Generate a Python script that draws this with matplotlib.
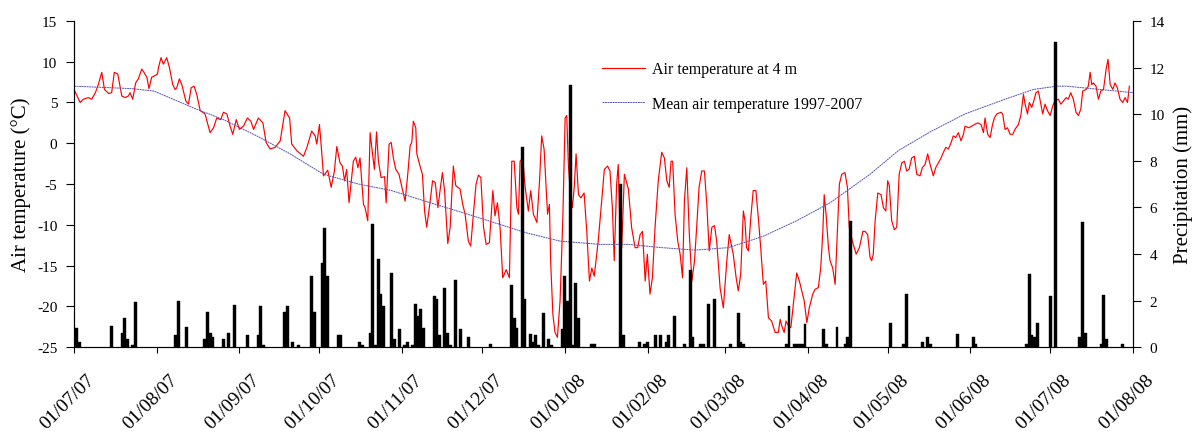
import matplotlib
matplotlib.use("Agg")
import matplotlib.pyplot as plt
import matplotlib.dates as mdates
from matplotlib.transforms import ScaledTranslation
import pandas as pd

plt.rcParams['font.family'] = ['Liberation Serif', 'DejaVu Serif']
plt.rcParams['axes.unicode_minus'] = False

start = pd.Timestamp('2007-07-01')

# Air temperature at 4 m: days since 01/07/07 and value (degC)
temp_days = [0, 2.3, 3.5, 5.4, 6.6, 8, 9.1, 10.4, 11.4, 13, 14.1, 15.1, 16.4, 17.9, 19.1, 20.4, 21, 22,
             23.1, 24.1, 25.4, 26.4, 27.3, 28.1, 29.1, 30.4, 31.3, 31.6, 32.6, 33.5, 34.75, 35.75, 37,
             37.9, 38.5, 39.5, 40.4, 41.9, 42.9, 43.9,
             45, 46, 47.3, 49.1, 51, 52.3, 53.5, 55, 56, 57.3, 58.5, 59.5, 60.8, 62, 63.5, 65, 66.3,
             67.3, 69.1, 70.8, 72, 73.5, 75.4, 77.3, 79.1, 80.8, 81.6, 83.5, 86, 87.3, 89.1, 90.4, 91,
             92, 92.9, 93.5,
             95.1, 96.4, 97.6, 98.5, 99.7, 100.6, 101.4, 102.2, 103.1, 104.7, 105.6, 106.4, 107.2,
             108.5, 109.1, 110.1, 111, 111.9, 112.6, 113.4, 114.1, 115.1, 116.4, 117, 118.1, 118.9,
             119.7, 120.6, 121.8, 122.9, 124.1, 125.1, 126, 126.6, 127.2, 128.1, 128.5, 129.7, 130.6,
             131.4, 132.2, 133.5, 134.4, 135.4, 136.4, 137.2, 138.1, 138.9, 140.1, 141, 141.6, 142.2,
             143.1, 144.7,
             145.7, 146.6, 147.8, 148.7, 149.7, 150.7, 151.6, 152.5, 153.5, 154.5, 155.7, 157, 157.8,
             158.7, 159.7, 160.7, 162, 163.2, 164.1, 165, 166, 166.6, 167.2, 168.2, 169.1, 170.3,
             171.2, 172.2, 173.5, 174.5, 175.3, 176.2, 177.5, 178.2, 178.7, 179.5, 180.3, 181.2,
             182.2, 183.2, 184.1, 184.7, 185.3, 185.9, 186.8, 187.5, 188.2, 189.1, 190, 191.2, 192.2,
             193.2, 194.1, 195,
             196.5, 197.8, 198.8, 200, 200.9, 201.8, 202.5, 203.4, 204, 204.7, 205.3, 206.3, 207.8,
             209, 210.3, 211.3, 212.2, 213.1, 214.1, 214.9, 215.9, 216.8, 217.8, 219, 220.3, 221.3,
             222.2, 223.1, 223.8, 224.4, 225.3, 226.3, 227.2, 228.1, 228.8, 229.7, 230.6, 231.6,
             232.6, 233.4, 234.3, 235.3, 236.3, 237.2, 238.1, 239.1, 240.1, 240.9, 242.2, 243.4,
             244.7, 245.6,
             247.1, 248.2, 249, 249.9, 250.9, 251.5, 252.1, 252.8, 253.7, 254.6, 255.6, 256.5, 257.4,
             258.4, 259.3, 260.3, 261.5, 262.8, 264, 264.7, 265.3, 266.2, 266.9, 267.8, 268.7, 269.9,
             270.9, 271.9, 272.8, 273.7, 274.7, 275.6, 276.9, 277.8, 279, 279.9, 280.7, 281.2, 281.9,
             282.8, 283.4, 284.4, 285.3, 286.1, 286.9, 287.8, 289, 289.9, 290.6, 291.2, 292.1, 293.2,
             294.4, 295.7,
             296.5, 297.5, 298.4, 299, 299.6, 300.3, 301.3, 302.5, 303.4, 304.3, 305, 305.6, 306.5,
             307.5, 308.4, 309.3, 310.3, 311.3, 312.1, 313, 314, 315, 315.9, 317.1, 318, 319, 320,
             320.9, 322.1, 323, 324, 325, 325.9, 326.8, 327.8, 328.8, 329.6, 330.5, 331.5, 332.5,
             333.4, 334, 335.3, 336.5, 337.5, 338.8, 340, 340.9, 341.5, 342.5, 343.4, 344.3, 345,
             345.9, 347.5,
             348.1, 349, 349.9, 350.9, 351.9, 352.7, 354, 354.9, 355.9, 356.5, 357.4, 358.1, 359,
             359.6, 360.6, 361.5, 362.4, 363.1, 364, 364.9, 365.9, 366.9, 367.7, 369, 369.9, 370.9,
             371.9, 372.7, 373.6, 374.6, 375.6, 376.5, 377.4, 378.1, 379.4, 380.2, 380.9, 381.5,
             382.1, 383.1, 384, 384.9, 385.9, 386.9, 387.6, 388.4, 389.4, 390.2, 391.1, 392.1, 393.1,
             394, 394.9, 395.6]
temp_vals = [6.6, 5.0, 5.4, 5.6, 5.4, 6.2, 7.2, 8.7, 6.6, 6.1, 6.2, 8.7, 8.5, 5.8, 5.6, 5.8, 6.2, 5.4,
             7.4, 7.9, 9.1, 8.6, 8.1, 6.7, 8.1, 8.3, 8.5, 9.2, 10.5, 9.7, 10.5, 9.3, 7.2,
             6.6, 6.8, 7.9, 7.2, 5.2, 4.8, 6.8,
             7.0, 6.0, 4.0, 3.6, 1.3, 1.9, 3.1, 2.9, 3.8, 3.6, 2.1, 1.1, 2.9, 1.7, 2.1, 3.1, 2.7,
             1.7, 3.1, 2.5, 0.1, -0.7, -0.5, 0.3, 4.0, 3.1, -0.1, -0.9, -1.6, -0.5, 1.5, 0.9, -0.1,
             2.3, -1.3, -4.0,
             -3.3, -5.4, -3.4, -0.4, -2.4, -2.8, -4.6, -3.2, -7.3, -2.2, -1.7, -3.0, -1.8,
             -7.5, -7.9, -9.5, 1.3, -1.3, -3.2, 1.4, -2.2, -4.2, -4.1, -7.3, -0.1, 0.1,
             -1.8, -3.2, -3.8, -5.4, -7.1, -3.8, -0.3, 0.1, 2.7, 1.9, -1.3, -2.8, -3.8,
             -8.3, -10.3, -7.1, -4.6, -4.8, -7.9, -5.8, -3.6, -5.8, -12.3, -10.3, -6.3, -2.8,
             -5.2, -5.6,
             -7.5, -8.7, -12.0, -12.6, -8.7, -5.0, -3.9, -4.2, -10.3, -12.4, -12.2, -5.8, -8.9,
             -7.3, -10.3, -16.5, -15.5, -16.5, -2.2, -2.2, -7.9, -8.7, -2.2, -1.8, -5.4, -8.3,
             -5.8, -8.7, -9.7, -4.6, 0.9, -0.7, -8.7, -7.5, -14.8, -21.0, -23.2, -23.8,
             -19.3, -9.5, 3.1, 3.4, -2.6, -5.4, -7.9, -5.4, -1.3, -6.3, -6.7, -6.1, -10.8,
             -16.9, -15.3, -16.3,
             -12.0, -7.1, -3.2, -2.8, -3.4, -7.9, -14.4, -5.0, -2.6, -10.8, -12.8, -3.8, -5.6,
             -10.3, -12.8, -12.8, -11.2, -10.8, -16.9, -13.6, -18.5, -16.5, -10.3, -4.6, -1.1, -1.8,
             -4.6, -5.4, -2.2, -2.2, -8.7, -12.0, -13.6, -16.5, -7.1, -3.0, -10.8, -16.9,
             -14.4, -10.3, -5.4, -3.4, -3.4, -7.5, -13.2, -10.3, -10.1, -12.0, -17.8, -20.2,
             -14.4, -11.2,
             -13.6, -16.5, -18.1, -16.1, -8.3, -9.5, -12.8, -13.2, -9.1, -5.8, -5.8, -9.1, -12.8,
             -17.3, -16.9, -21.4, -21.8, -23.2, -23.2, -21.6, -22.4, -23.2, -21.8, -22.4, -22.6, -18.9,
             -15.9, -16.9, -18.1, -19.3, -22.0, -20.2, -18.5, -17.9, -17.7, -15.3, -10.8, -6.3, -8.7,
             -12.8, -14.4, -15.3, -17.3, -11.2, -5.0, -3.8, -3.6, -5.4, -10.3, -11.2, -12.4, -13.6,
             -12.8, -10.8,
             -10.8, -11.2, -14.0, -14.4, -13.6, -9.5, -6.1, -6.3, -7.9, -8.3, -4.6, -5.2, -9.5,
             -10.6, -10.3, -3.8, -2.4, -2.2, -3.4, -3.2, -1.8, -1.6, -3.8, -4.0, -3.0, -2.6, -1.3,
             -2.6, -4.0, -3.0, -2.4, -1.8, -1.1, -0.5, -0.7, 0.1, 0.9, 0.7, 1.3, 0.3,
             1.1, 2.1, 1.9, 2.1, 2.3, 2.5, 2.3, 1.3, 3.1, 1.1, 0.7, 2.3, 3.1,
             3.6, 3.8,
             3.6, 1.7, 1.9, 1.1, 1.1, 1.7, 2.3, 3.4, 6.0, 4.8, 3.6, 5.0, 4.4,
             5.0, 6.2, 6.4, 4.8, 3.6, 4.8, 4.0, 3.4, 4.6, 5.2, 5.4, 4.8, 5.2,
             5.6, 5.4, 6.2, 5.4, 3.8, 3.4, 4.2, 6.4, 6.6, 7.0, 8.7, 7.2,
             7.4, 7.0, 5.4, 6.4, 6.6, 9.1, 10.3, 7.2, 6.6, 7.4, 6.8, 5.4, 5.0,
             5.6, 5.0, 7.0]

# Mean air temperature 1997-2007
mean_days = [0, 21.6, 30, 45, 56, 68.5, 81, 93.5, 106.6, 119, 131.6, 146.6, 157.2, 169.7, 182.2,
             197.2, 207.8, 220.3, 232.8, 245.3, 258.4, 270.9, 283.4, 298.4, 309, 321.5, 334, 349,
             359.6, 368.4, 372.1, 384.6, 397]
mean_vals = [7.0, 6.7, 6.4, 4.3, 2.9, 0.9, -1.3, -3.8, -5.0, -5.8, -7.1, -8.6, -9.7, -11.0, -12.0,
             -12.4, -12.4, -12.8, -13.1, -12.8, -11.4, -9.5, -7.3, -3.8, -0.9, 1.5, 3.6, 5.4,
             6.6, 7.0, 7.0, 6.6, 6.2]

# Daily precipitation (mm)
prec_days = [0, 1, 2, 14, 18, 19, 20, 22, 23, 38, 39, 42,
             49, 50, 51, 52, 56, 58, 60, 65, 69, 70, 71, 79, 80, 82, 84, 89, 90, 93, 94, 95,
             99, 100, 107, 108, 111, 112, 113, 114, 115, 116, 119, 120, 122, 124, 125, 127, 128,
             129, 130, 131, 135, 136, 137, 139, 140, 141, 143, 145,
             148, 156, 164, 165, 166, 168, 169, 171, 172, 173, 174, 176, 178, 179, 183, 184, 185,
             186, 187, 188, 189, 194, 195,
             205, 206, 212, 214, 215, 218, 220, 222, 223, 225, 229, 231, 232, 235, 236, 238, 240, 246,
             249, 250, 251, 267, 268, 270, 271, 272, 273, 274, 281, 282, 286, 289, 290, 291,
             306, 311, 312, 318, 320, 321, 331, 337, 338,
             357, 358, 359, 360, 361, 366, 368, 377, 378, 379, 385, 386, 387, 393]
prec_vals = [0.84, 0.84, 0.2, 0.9, 0.6, 1.25, 0.35, 0.1, 1.95, 0.5, 2.0, 0.85,
             0.35, 1.5, 0.6, 0.45, 0.35, 0.6, 1.8, 0.5, 0.5, 1.75, 0.1, 1.5, 1.75, 0.2, 0.1, 3.05,
             1.5, 3.6, 5.1, 3.05,
             0.5, 0.5, 0.2, 0.1, 0.6, 5.3, 0.1, 3.8, 2.3, 1.75, 3.2, 0.35, 0.77, 0.1, 0.2, 0.1, 1.85,
             1.35, 1.65, 0.84, 2.2, 2.05, 0.5, 2.55, 0.6, 0.1, 2.9, 0.77,
             0.45, 0.13, 2.65, 1.27, 0.84, 8.57, 2.05, 0.55, 0.2, 0.5, 0.1, 1.45, 0.35, 0.1, 0.77,
             3.05, 2.0, 11.25, 0.1, 2.75, 1.27, 0.15, 0.15,
             7.0, 0.5, 0.2, 0.13, 0.2, 0.5, 0.5, 0.2, 0.5, 1.35, 0.13, 3.3, 0.45, 0.13, 0.13, 1.85,
             2.05, 0.13,
             1.45, 0.2, 0.13, 0.13, 1.75, 0.13, 0.13, 0.13, 0.13, 1.0, 0.77, 0.13, 0.85, 0.13, 0.45,
             5.4,
             1.05, 0.13, 2.27, 0.23, 0.45, 0.13, 0.55, 0.45, 0.13,
             0.13, 3.15, 0.5, 0.45, 1.05, 2.2, 13.08, 0.45, 5.35, 0.6, 0.13, 2.25, 0.35, 0.13]

# x tick positions: first of each month
month_ticks = pd.date_range('2007-07-01', '2008-08-01', freq='MS')

temp_x = start + pd.to_timedelta(temp_days, unit='D')
mean_x = start + pd.to_timedelta(mean_days, unit='D')
prec_x = start + pd.to_timedelta(prec_days, unit='D')

fig = plt.figure(figsize=(11.94, 4.39), dpi=100)
ax = fig.add_axes([0.062, 0.207, 0.887, 0.743])
ax2 = ax.twinx()

ax.plot(temp_x, temp_vals, color='#ff0000', lw=0.85, label='Air temperature at 4 m')
ax.plot(mean_x, mean_vals, color='#5555bb', lw=0.7, ls=(0, (2, 0.6)),
        label='Mean air temperature 1997-2007')
ax2.bar(prec_x, prec_vals, width=1.1, color='black', edgecolor='black', linewidth=0.3)

ax.set_xlim(pd.Timestamp('2007-07-01'), pd.Timestamp('2008-08-01'))
ax.set_ylim(-25, 15)
ax.set_yticks(range(-25, 16, 5))
ax2.set_ylim(0, 14)
ax2.set_yticks(range(0, 15, 2))

ax.set_xticks(month_ticks)
ax.xaxis.set_major_formatter(mdates.DateFormatter('%d/%m/%y'))
ax.tick_params(axis='y', labelsize=11, direction='out', length=6, width=0.8, pad=6)
ax.tick_params(axis='x', direction='out', length=4, width=0.8, pad=6, labelsize=14)
ax2.tick_params(axis='y', labelsize=11, direction='out', length=6, width=0.8, pad=6)

for a in (ax, ax2):
    a.spines['top'].set_visible(False)
ax.set_ylabel('Air temperature (°C)', fontsize=15, labelpad=4)
ax2.set_ylabel('Precipitation (mm)', fontsize=15, labelpad=6)

ax.legend(loc='upper left', bbox_to_anchor=(0.491, 0.901), frameon=False, fontsize=11.5,
          handlelength=2.7, labelspacing=1.15, borderpad=0, handletextpad=0.4)

# draw once so the tick objects exist, then nudge the rotated labels like the original
fig.canvas.draw()
shift = ScaledTranslation(0.12, -0.1, fig.dpi_scale_trans)
for lab in ax.get_xticklabels():
    lab.set_rotation(45)
    lab.set_ha('right')
    lab.set_rotation_mode('anchor')
    lab.set_transform(lab.get_transform() + shift)

fig.savefig('out.png', dpi=100)
